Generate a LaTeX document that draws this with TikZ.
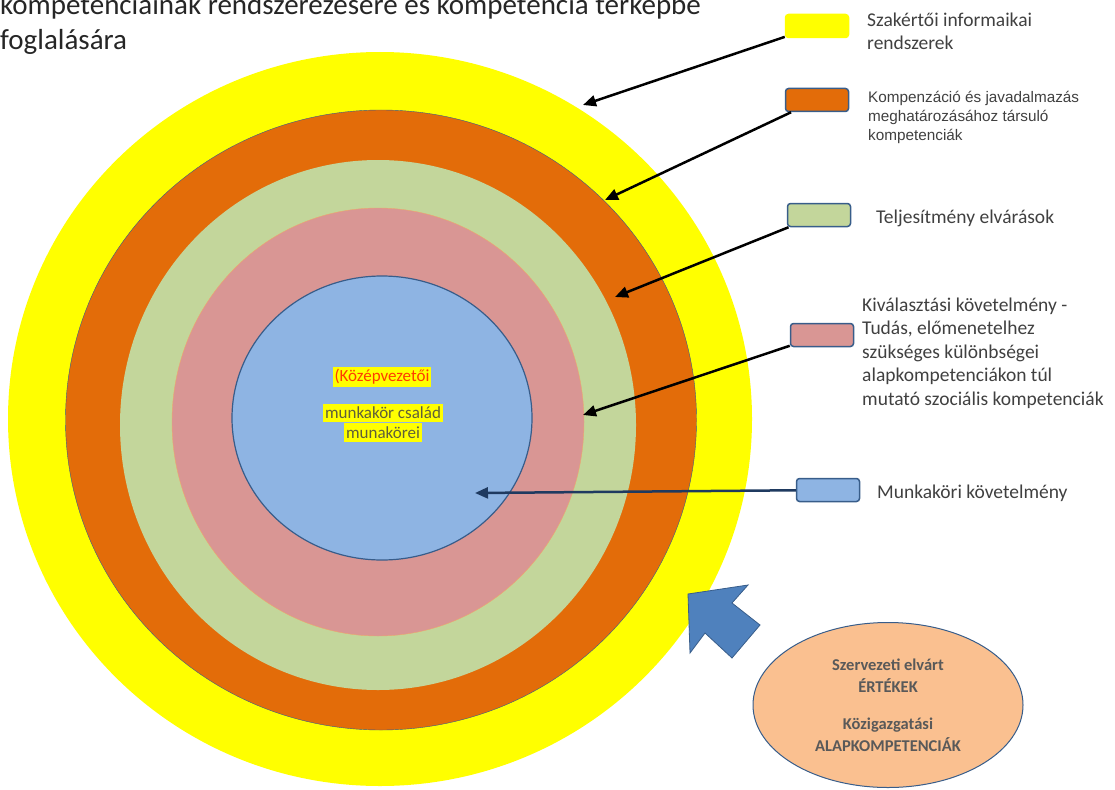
\documentclass[tikz,border=0pt]{standalone}
\usepackage{fontspec}
\setmainfont{Carlito}
\newfontfamily\arialfont{Liberation Sans}
\usetikzlibrary{positioning, arrows.meta, shapes.geometric}
\definecolor{ringyellow}{HTML}{FFFF00}
\definecolor{ringorange}{HTML}{E36C09}
\definecolor{ringgreen}{HTML}{C3D69B}
\definecolor{ringpink}{HTML}{D99694}
\definecolor{ringblue}{HTML}{8EB4E3}
\definecolor{edgeblue}{HTML}{385D8A}
\definecolor{navy}{HTML}{1F3A60}
\definecolor{peach}{HTML}{FAC090}
\definecolor{bigarrow}{HTML}{4F81BD}
\definecolor{txtgray}{HTML}{404040}
\definecolor{midred}{HTML}{FF3C00}
\definecolor{midolive}{HTML}{5F5F3A}

\begin{document}
\begin{tikzpicture}[x=1pt, y=-1pt, font=\fontsize{19.5}{23.5}\selectfont,
  ring/.style={ellipse, inner sep=0pt},
  legbox/.style={draw=edgeblue, line width=1.5pt, rounded corners=3pt, minimum width=63pt, minimum height=23pt, inner sep=0pt},
  legtext/.style={anchor=base west, align=left, text=txtgray, inner sep=0pt},
  pointer/.style={-{Triangle[length=13pt,width=11pt]}, line width=2.5pt}]

\useasboundingbox (0,0) rectangle (1115,789);

% Title (cut at the top)
\node[anchor=base west, align=left, inner sep=0pt, font=\fontsize{29}{35}\selectfont, text=black!85] (title) at (0,50)
  {kompetenciáinak rendszerezésére és kompetencia térképbe\\foglalására};

% Rings
\node[ring, fill=ringyellow, minimum width=744pt, minimum height=734pt] (yel) at (380,419) {};
\node[ring, draw=edgeblue, fill=ringorange, minimum width=631pt, minimum height=620pt] (ora) at (381,420) {};
\node[ring, fill=ringgreen, minimum width=516pt, minimum height=530pt] (gre) at (378,425) {};
\node[ring, draw=ringorange!60, fill=ringpink, minimum width=412pt, minimum height=428pt] (pin) at (378,422) {};
\node[ring, draw=edgeblue, line width=1.2pt, fill=ringblue, minimum width=300pt, minimum height=284pt] (blu) at (382,418) {};

% Centre labels
\node[fill=ringyellow, text=midred, inner sep=2pt, font=\fontsize{17}{20}\selectfont] (mid1) at (382,377) {(Középvezetői};
\node[fill=ringyellow, text=midolive, inner xsep=2pt, inner ysep=3.5pt, font=\fontsize{17}{20}\selectfont] (mid2) at (383,413) {munkakör család};
\node[fill=ringyellow, text=midolive, inner xsep=2pt, inner ysep=3.5pt, font=\fontsize{17}{20}\selectfont, below=0pt of mid2] (mid3) {munakörei};

% Arrow ends
\coordinate (yend) at (583,105);
\coordinate (oend) at (605,200);
\coordinate (gend) at (615,297);
\coordinate (pend) at (583,415);
\coordinate (bend) at (475,493);

% Legend
\node[legbox, draw=ringyellow, fill=ringyellow] (ybox) at (817,26) {};
\node[legbox, fill=ringorange] (obox) at (817,100) {};
\node[legbox, fill=ringgreen] (gbox) at (819,215) {};
\node[legbox, fill=ringpink] (pbox) at (822,335) {};
\node[legbox, fill=ringblue] (bbox) at (828,490) {};

\draw[pointer] (ybox) -- (yend);
\draw[pointer] (obox) -- (oend);
\draw[pointer] (gbox) -- (gend);
\draw[pointer] (pbox) -- (pend);
\draw[pointer, navy] (bbox) -- (bend);

\node[legtext] (ytext) at (867,50) {Szakértői informaikai\\rendszerek};
\node[legtext, font=\arialfont\fontsize{15.3}{19}\selectfont] (otext) at (868,140) {Kompenzáció és javadalmazás\\meghatározásához társuló\\kompetenciák};
\node[legtext] (gtext) at (876,223) {Teljesítmény elvárások};
\node[legtext] (ptext) at (862,405) {Kiválasztási követelmény -\\Tudás, előmenetelhez\\szükséges különbségei\\alapkompetenciákon túl\\mutató szociális kompetenciák};
\node[legtext] (btext) at (877,498) {Munkaköri követelmény};

% Block arrow and values
\filldraw[fill=bigarrow, draw=edgeblue, line width=0.8pt] (688,594) -- (748,585) -- (732,603) -- (760,625) -- (732,658) -- (705,633) -- (690,653) -- cycle;
\node[ring, draw=edgeblue, line width=1pt, fill=peach, minimum width=270pt, minimum height=165pt, align=center, text=black!65, font=\bfseries\fontsize{16.5}{22.5}\selectfont] (vals) at (888,705)
  {Szervezeti elvárt\\ÉRTÉKEK\\[14pt]Közigazgatási\\ALAPKOMPETENCIÁK};

\end{tikzpicture}
\end{document}
